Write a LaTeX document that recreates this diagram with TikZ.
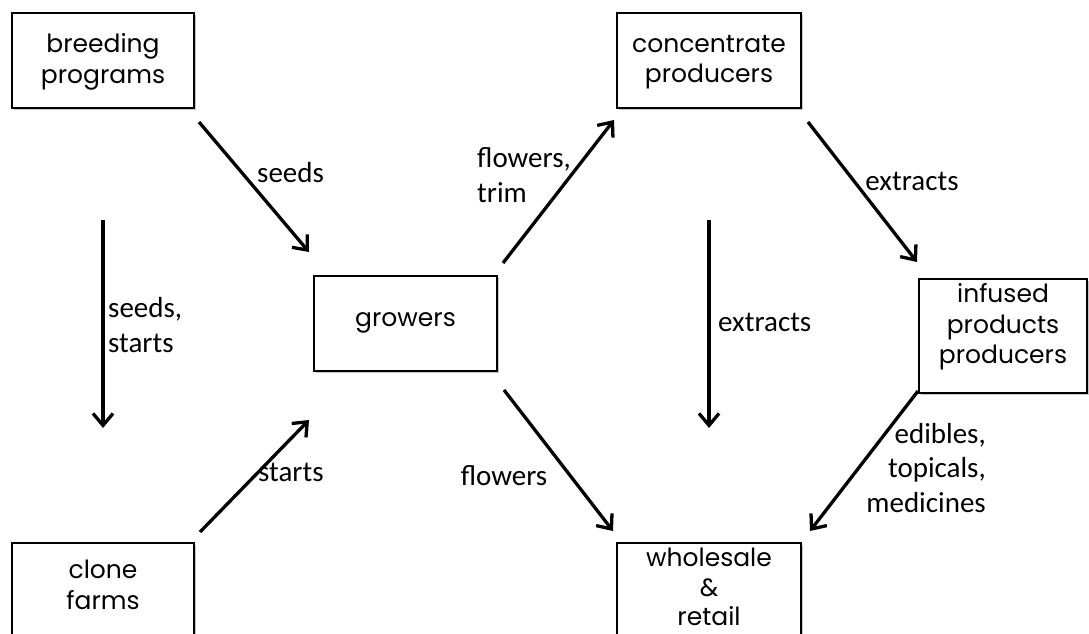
\documentclass[tikz,border=0pt]{standalone}
\usepackage{fontspec}
\setmainfont{Carlito}
\newfontfamily\boxfont{Poppins}
\usetikzlibrary{arrows.meta,shadows}
\tikzset{
  box/.style={draw, line width=1.6pt, fill=white, inner sep=0pt,
    drop shadow={shadow xshift=1.5pt, shadow yshift=-2pt, opacity=0.45, fill=gray}},
  boxtext/.style={inner sep=0pt, align=center, font=\boxfont\fontsize{25}{30.5}\selectfont},
  flow/.style={line width=3.3pt, -{Straight Barb[length=12pt,width=20pt,line width=3.3pt]}},
  lbl/.style={inner sep=0pt, font=\fontsize{29}{34.5}\selectfont}
}
\begin{document}
\begin{tikzpicture}[x=1pt,y=-1pt]
\clip (0,0) rectangle (1089,634);
\fill[white] (0,0) rectangle (1089,634);
% boxes
\node[box, minimum width=182pt, minimum height=95pt] (breed) at (103,60.5) {};
\node[boxtext] (breedt) at (103,62) {breeding\\programs};
\node[box, minimum width=184pt, minimum height=95pt] (conc) at (709,60.5) {};
\node[boxtext] (conct) at (709,62) {concentrate\\producers};
\node[box, minimum width=183pt, minimum height=95pt] (grow) at (405.5,323.5) {};
\node[boxtext] (growt) at (405.5,323) {growers};
\node[box, minimum width=168pt, minimum height=114pt] (inf) at (1003,336) {};
\node[boxtext] (inft) at (1003,327) {infused\\products\\producers};
\node[box, minimum width=182pt, minimum height=95pt] (clone) at (103,590.5) {};
\node[boxtext] (clonet) at (103,585) {clone\\farms};
\node[box, minimum width=184pt, minimum height=96pt] (whole) at (709,591) {};
\node[boxtext, font=\boxfont\fontsize{25}{29.5}\selectfont] (wholet) at (709,587) {wholesale\\\&\\retail};
% arrow end points
\coordinate (a1s) at (199,122);  \coordinate (a1e) at (309,252);
\coordinate (a2s) at (103,220);  \coordinate (a2e) at (103,428);
\coordinate (a3s) at (200,532);  \coordinate (a3e) at (309,420);
\coordinate (a4s) at (503,263);  \coordinate (a4e) at (614,120);
\coordinate (a5s) at (504,390);  \coordinate (a5e) at (613,531);
\coordinate (a6s) at (808,122);  \coordinate (a6e) at (917,262);
\coordinate (a7s) at (709,220);  \coordinate (a7e) at (709,428);
\coordinate (a8s) at (918,391);  \coordinate (a8e) at (810,531);
% connectors
\draw[flow] (a1s) -- (a1e);
\draw[flow] (a2s) -- (a2e);
\draw[flow] (a3s) -- (a3e);
\draw[flow] (a4s) -- (a4e);
\draw[flow] (a5s) -- (a5e);
\draw[flow] (a6s) -- (a6e);
\draw[flow] (a7s) -- (a7e);
\draw[flow] (a8s) -- (a8e);
% labels
\node[lbl, anchor=west] (l1) at (257,173) {seeds};
\node[lbl, anchor=west, align=left] (l2) at (108,325) {seeds,\\starts};
\node[lbl, anchor=west] (l3) at (258,472) {starts};
\node[lbl, anchor=west, align=left] (l4) at (477,175) {flowers,\\trim};
\node[lbl] (l5) at (504,476) {flowers};
\node[lbl] (l6) at (912,181) {extracts};
\node[lbl, anchor=west] (l7) at (718,322) {extracts};
\node[lbl, anchor=east, align=right] (l8) at (986,468) {edibles,\\topicals,\\medicines};
\end{tikzpicture}
\end{document}
